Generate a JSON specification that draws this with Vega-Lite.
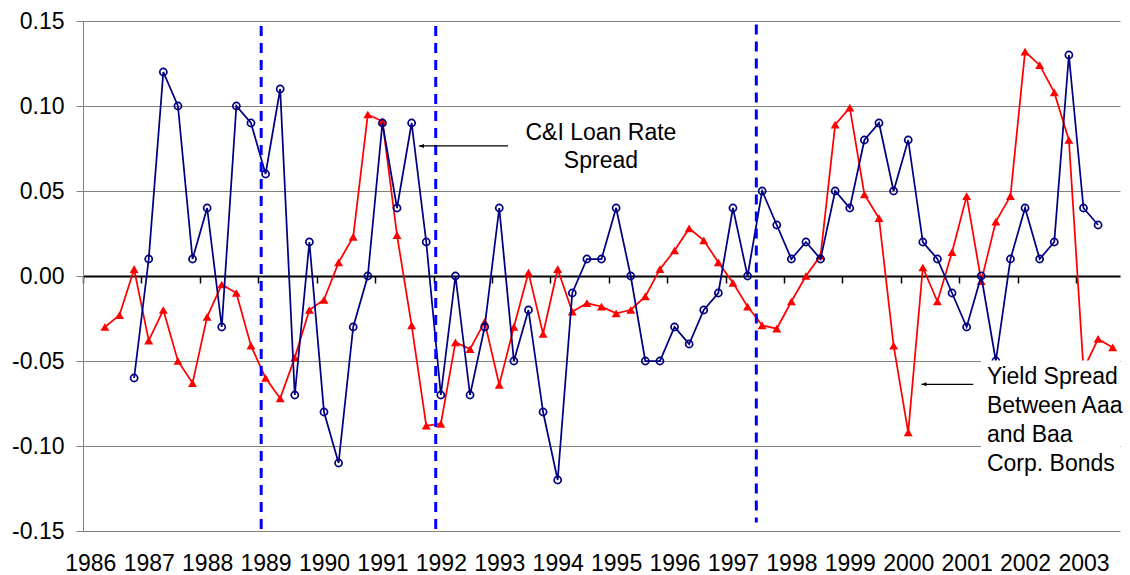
{
  "$schema": "https://vega.github.io/schema/vega-lite/v6.json",
  "width": 1037,
  "height": 510,
  "autosize": {"type": "none"},
  "padding": {"left": 83, "top": 21, "right": 10, "bottom": 44},
  "background": "white",
  "config": {
    "view": {"stroke": null},
    "font": "Liberation Sans",
    "text": {"font": "Liberation Sans"}
  },
  "datasets": {
    "loan": [
      {"quarter": "1986Q4", "t": 3, "value": -0.06},
      {"quarter": "1987Q1", "t": 4, "value": 0.01},
      {"quarter": "1987Q2", "t": 5, "value": 0.12},
      {"quarter": "1987Q3", "t": 6, "value": 0.10},
      {"quarter": "1987Q4", "t": 7, "value": 0.01},
      {"quarter": "1988Q1", "t": 8, "value": 0.04},
      {"quarter": "1988Q2", "t": 9, "value": -0.03},
      {"quarter": "1988Q3", "t": 10, "value": 0.10},
      {"quarter": "1988Q4", "t": 11, "value": 0.09},
      {"quarter": "1989Q1", "t": 12, "value": 0.06},
      {"quarter": "1989Q2", "t": 13, "value": 0.11},
      {"quarter": "1989Q3", "t": 14, "value": -0.07},
      {"quarter": "1989Q4", "t": 15, "value": 0.02},
      {"quarter": "1990Q1", "t": 16, "value": -0.08},
      {"quarter": "1990Q2", "t": 17, "value": -0.11},
      {"quarter": "1990Q3", "t": 18, "value": -0.03},
      {"quarter": "1990Q4", "t": 19, "value": 0.00},
      {"quarter": "1991Q1", "t": 20, "value": 0.09},
      {"quarter": "1991Q2", "t": 21, "value": 0.04},
      {"quarter": "1991Q3", "t": 22, "value": 0.09},
      {"quarter": "1991Q4", "t": 23, "value": 0.02},
      {"quarter": "1992Q1", "t": 24, "value": -0.07},
      {"quarter": "1992Q2", "t": 25, "value": 0.00},
      {"quarter": "1992Q3", "t": 26, "value": -0.07},
      {"quarter": "1992Q4", "t": 27, "value": -0.03},
      {"quarter": "1993Q1", "t": 28, "value": 0.04},
      {"quarter": "1993Q2", "t": 29, "value": -0.05},
      {"quarter": "1993Q3", "t": 30, "value": -0.02},
      {"quarter": "1993Q4", "t": 31, "value": -0.08},
      {"quarter": "1994Q1", "t": 32, "value": -0.12},
      {"quarter": "1994Q2", "t": 33, "value": -0.01},
      {"quarter": "1994Q3", "t": 34, "value": 0.01},
      {"quarter": "1994Q4", "t": 35, "value": 0.01},
      {"quarter": "1995Q1", "t": 36, "value": 0.04},
      {"quarter": "1995Q2", "t": 37, "value": 0.00},
      {"quarter": "1995Q3", "t": 38, "value": -0.05},
      {"quarter": "1995Q4", "t": 39, "value": -0.05},
      {"quarter": "1996Q1", "t": 40, "value": -0.03},
      {"quarter": "1996Q2", "t": 41, "value": -0.04},
      {"quarter": "1996Q3", "t": 42, "value": -0.02},
      {"quarter": "1996Q4", "t": 43, "value": -0.01},
      {"quarter": "1997Q1", "t": 44, "value": 0.04},
      {"quarter": "1997Q2", "t": 45, "value": 0.00},
      {"quarter": "1997Q3", "t": 46, "value": 0.05},
      {"quarter": "1997Q4", "t": 47, "value": 0.03},
      {"quarter": "1998Q1", "t": 48, "value": 0.01},
      {"quarter": "1998Q2", "t": 49, "value": 0.02},
      {"quarter": "1998Q3", "t": 50, "value": 0.01},
      {"quarter": "1998Q4", "t": 51, "value": 0.05},
      {"quarter": "1999Q1", "t": 52, "value": 0.04},
      {"quarter": "1999Q2", "t": 53, "value": 0.08},
      {"quarter": "1999Q3", "t": 54, "value": 0.09},
      {"quarter": "1999Q4", "t": 55, "value": 0.05},
      {"quarter": "2000Q1", "t": 56, "value": 0.08},
      {"quarter": "2000Q2", "t": 57, "value": 0.02},
      {"quarter": "2000Q3", "t": 58, "value": 0.01},
      {"quarter": "2000Q4", "t": 59, "value": -0.01},
      {"quarter": "2001Q1", "t": 60, "value": -0.03},
      {"quarter": "2001Q2", "t": 61, "value": 0.00},
      {"quarter": "2001Q3", "t": 62, "value": -0.05},
      {"quarter": "2001Q4", "t": 63, "value": 0.01},
      {"quarter": "2002Q1", "t": 64, "value": 0.04},
      {"quarter": "2002Q2", "t": 65, "value": 0.01},
      {"quarter": "2002Q3", "t": 66, "value": 0.02},
      {"quarter": "2002Q4", "t": 67, "value": 0.13},
      {"quarter": "2003Q1", "t": 68, "value": 0.04},
      {"quarter": "2003Q2", "t": 69, "value": 0.03}
    ],
    "yield": [
      {"quarter": "1986Q2", "t": 1, "value": -0.030},
      {"quarter": "1986Q3", "t": 2, "value": -0.023},
      {"quarter": "1986Q4", "t": 3, "value": 0.004},
      {"quarter": "1987Q1", "t": 4, "value": -0.038},
      {"quarter": "1987Q2", "t": 5, "value": -0.020},
      {"quarter": "1987Q3", "t": 6, "value": -0.050},
      {"quarter": "1987Q4", "t": 7, "value": -0.063},
      {"quarter": "1988Q1", "t": 8, "value": -0.024},
      {"quarter": "1988Q2", "t": 9, "value": -0.005},
      {"quarter": "1988Q3", "t": 10, "value": -0.010},
      {"quarter": "1988Q4", "t": 11, "value": -0.041},
      {"quarter": "1989Q1", "t": 12, "value": -0.060},
      {"quarter": "1989Q2", "t": 13, "value": -0.072},
      {"quarter": "1989Q3", "t": 14, "value": -0.048},
      {"quarter": "1989Q4", "t": 15, "value": -0.020},
      {"quarter": "1990Q1", "t": 16, "value": -0.014},
      {"quarter": "1990Q2", "t": 17, "value": 0.008},
      {"quarter": "1990Q3", "t": 18, "value": 0.023},
      {"quarter": "1990Q4", "t": 19, "value": 0.095},
      {"quarter": "1991Q1", "t": 20, "value": 0.091},
      {"quarter": "1991Q2", "t": 21, "value": 0.024},
      {"quarter": "1991Q3", "t": 22, "value": -0.029},
      {"quarter": "1991Q4", "t": 23, "value": -0.088},
      {"quarter": "1992Q1", "t": 24, "value": -0.087},
      {"quarter": "1992Q2", "t": 25, "value": -0.039},
      {"quarter": "1992Q3", "t": 26, "value": -0.043},
      {"quarter": "1992Q4", "t": 27, "value": -0.027},
      {"quarter": "1993Q1", "t": 28, "value": -0.064},
      {"quarter": "1993Q2", "t": 29, "value": -0.030},
      {"quarter": "1993Q3", "t": 30, "value": 0.002},
      {"quarter": "1993Q4", "t": 31, "value": -0.034},
      {"quarter": "1994Q1", "t": 32, "value": 0.004},
      {"quarter": "1994Q2", "t": 33, "value": -0.021},
      {"quarter": "1994Q3", "t": 34, "value": -0.016},
      {"quarter": "1994Q4", "t": 35, "value": -0.018},
      {"quarter": "1995Q1", "t": 36, "value": -0.022},
      {"quarter": "1995Q2", "t": 37, "value": -0.020},
      {"quarter": "1995Q3", "t": 38, "value": -0.012},
      {"quarter": "1995Q4", "t": 39, "value": 0.004},
      {"quarter": "1996Q1", "t": 40, "value": 0.015},
      {"quarter": "1996Q2", "t": 41, "value": 0.028},
      {"quarter": "1996Q3", "t": 42, "value": 0.021},
      {"quarter": "1996Q4", "t": 43, "value": 0.008},
      {"quarter": "1997Q1", "t": 44, "value": -0.004},
      {"quarter": "1997Q2", "t": 45, "value": -0.018},
      {"quarter": "1997Q3", "t": 46, "value": -0.029},
      {"quarter": "1997Q4", "t": 47, "value": -0.031},
      {"quarter": "1998Q1", "t": 48, "value": -0.015},
      {"quarter": "1998Q2", "t": 49, "value": 0.000},
      {"quarter": "1998Q3", "t": 50, "value": 0.012},
      {"quarter": "1998Q4", "t": 51, "value": 0.089},
      {"quarter": "1999Q1", "t": 52, "value": 0.099},
      {"quarter": "1999Q2", "t": 53, "value": 0.048},
      {"quarter": "1999Q3", "t": 54, "value": 0.034},
      {"quarter": "1999Q4", "t": 55, "value": -0.041},
      {"quarter": "2000Q1", "t": 56, "value": -0.092},
      {"quarter": "2000Q2", "t": 57, "value": 0.005},
      {"quarter": "2000Q3", "t": 58, "value": -0.015},
      {"quarter": "2000Q4", "t": 59, "value": 0.014},
      {"quarter": "2001Q1", "t": 60, "value": 0.047},
      {"quarter": "2001Q2", "t": 61, "value": -0.003},
      {"quarter": "2001Q3", "t": 62, "value": 0.032},
      {"quarter": "2001Q4", "t": 63, "value": 0.047},
      {"quarter": "2002Q1", "t": 64, "value": 0.132},
      {"quarter": "2002Q2", "t": 65, "value": 0.124},
      {"quarter": "2002Q3", "t": 66, "value": 0.108},
      {"quarter": "2002Q4", "t": 67, "value": 0.080},
      {"quarter": "2003Q1", "t": 68, "value": -0.055},
      {"quarter": "2003Q2", "t": 69, "value": -0.037},
      {"quarter": "2003Q3", "t": 70, "value": -0.042}
    ]
  },
  "encoding": {
    "x": {
      "field": "t",
      "type": "quantitative",
      "scale": {"domain": [-0.5, 70.5], "nice": false, "zero": false},
      "axis": {
        "values": [-0.5, 3.5, 7.5, 11.5, 15.5, 19.5, 23.5, 27.5, 31.5, 35.5, 39.5, 43.5, 47.5, 51.5, 55.5, 59.5, 63.5, 67.5],
        "labelExpr": "toString(1986 + (datum.value + 0.5) / 4)",
        "title": null,
        "grid": false,
        "offset": -255,
        "domainColor": "#000000",
        "domainWidth": 2,
        "tickColor": "#000000",
        "tickSize": 7,
        "tickWidth": 1.5,
        "labelPadding": 269,
        "labelOffset": 7.3,
        "labelFont": "Liberation Sans",
        "labelFontSize": 23,
        "labelColor": "#000000",
        "labelFlush": false,
        "labelOverlap": false,
        "labelBound": false
      }
    },
    "y": {
      "field": "value",
      "type": "quantitative",
      "scale": {"domain": [-0.15, 0.15], "nice": false, "zero": false},
      "axis": {
        "values": [-0.15, -0.1, -0.05, 0, 0.05, 0.1, 0.15],
        "format": ".2f",
        "labelExpr": "replace(datum.label, '\u2212', '-')",
        "title": null,
        "grid": true,
        "gridColor": "#808080",
        "gridWidth": 1,
        "domainColor": "#808080",
        "domainWidth": 1,
        "tickColor": "#808080",
        "tickSize": 7,
        "labelPadding": 12,
        "labelFont": "Liberation Sans",
        "labelFontSize": 23,
        "labelColor": "#000000"
      }
    }
  },
  "layer": [
    {
      "data": {"name": "yield"},
      "mark": {
        "type": "line",
        "color": "#FF0000",
        "strokeWidth": 1.75,
        "point": {"shape": "triangle-up", "filled": true, "size": 80, "color": "#FF0000"}
      }
    },
    {
      "data": {"name": "loan"},
      "mark": {
        "type": "line",
        "color": "#000080",
        "strokeWidth": 1.75,
        "point": {"shape": "circle", "filled": false, "size": 50, "stroke": "#000080", "strokeWidth": 1.75}
      }
    },
    {
      "data": {"values": [
        {"t": 60.98, "t2": 70.5, "value": -0.0497, "value2": -0.12}
      ]},
      "mark": {"type": "rect", "fill": "white", "stroke": null},
      "encoding": {"x2": {"field": "t2"}, "y2": {"field": "value2"}}
    },
    {
      "data": {"values": [
        {"event": "1989", "t": 11.7, "value": 0.147, "value2": -0.15},
        {"event": "1992", "t": 23.65, "value": 0.147, "value2": -0.15},
        {"event": "1997", "t": 45.6, "value": 0.148, "value2": -0.145}
      ]},
      "mark": {"type": "rule", "color": "#0000FF", "strokeWidth": 3, "strokeDash": [10, 7]},
      "encoding": {"y2": {"field": "value2"}}
    },
    {
      "data": {"values": [
        {"t": 22.5, "t2": 28.6, "value": 0.0765},
        {"t": 56.91, "t2": 60.45, "value": -0.0637}
      ]},
      "mark": {"type": "rule", "color": "#000000", "strokeWidth": 1.2},
      "encoding": {"x2": {"field": "t2"}}
    },
    {
      "data": {"values": [
        {"t": 22.5, "value": 0.0765},
        {"t": 56.91, "value": -0.0637}
      ]},
      "mark": {"type": "point", "shape": "M0,0L2,-0.8L2,0.8Z", "filled": true, "color": "#000000", "size": 25, "opacity": 1}
    },
    {
      "data": {"values": [
        {"t": 34.96, "value": 0.08, "label": "C&I Loan Rate\nSpread"}
      ]},
      "mark": {"type": "text", "align": "center", "baseline": "alphabetic", "fontSize": 23, "lineHeight": 28, "lineBreak": "\n", "color": "#000000", "font": "Liberation Sans"},
      "encoding": {"text": {"field": "label"}}
    },
    {
      "data": {"values": [
        {"t": 61.39, "value": -0.0638, "label": "Yield Spread\nBetween Aaa\nand Baa\nCorp. Bonds"}
      ]},
      "mark": {"type": "text", "align": "left", "baseline": "alphabetic", "fontSize": 23, "lineHeight": 29, "lineBreak": "\n", "color": "#000000", "font": "Liberation Sans"},
      "encoding": {"text": {"field": "label"}}
    }
  ]
}
